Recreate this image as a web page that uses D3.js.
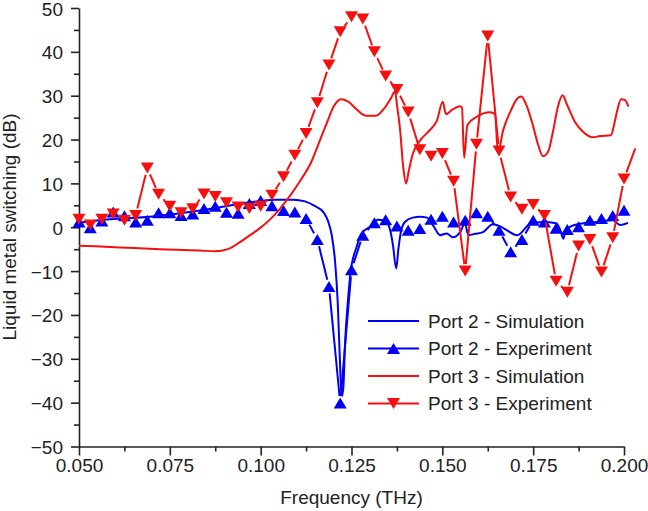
<!DOCTYPE html>
<html><head><meta charset="utf-8">
<script src="https://cdn.jsdelivr.net/npm/d3@7"></script>
<style>
html,body{margin:0;padding:0;background:#fff;}
svg text{font-family:"Liberation Sans",Arial,Helvetica,sans-serif;fill:#222;}
</style></head>
<body><svg id="chart" width="648" height="511"></svg>
<script>
// ---- data ----
const expFreq = [0.0500,0.0531,0.0563,0.0594,0.0625,0.0656,0.0688,0.0719,0.0750,0.0781,
  0.0813,0.0844,0.0875,0.0906,0.0938,0.0969,0.1000,0.1031,0.1063,0.1094,
  0.1125,0.1156,0.1188,0.1219,0.1250,0.1281,0.1313,0.1344,0.1375,0.1406,
  0.1438,0.1469,0.1500,0.1531,0.1563,0.1594,0.1625,0.1656,0.1688,0.1719,
  0.1750,0.1781,0.1813,0.1844,0.1875,0.1906,0.1938,0.1969,0.2000,0.2031];
const port3Exp = [1.8,0.5,1.8,3.0,1.6,2.7,13.5,7.5,4.8,3.3,
  4.2,7.6,7.0,5.6,4.6,4.3,4.8,7.3,11.5,16.4,
  21.4,28.4,37.0,44.6,48.0,47.5,40.0,34.5,31.4,26.3,
  17.7,16.2,16.8,10.5,-10.0,18.9,43.6,17.4,6.9,4.1,
  5.2,2.7,-12.3,-14.8,-4.3,-2.8,-10.2,-2.4,11.0,18.0];
const port2Exp = [1.2,-0.1,1.4,3.5,2.6,1.2,1.6,3.3,3.3,2.7,
  3.0,4.3,4.8,3.4,3.2,5.4,6.1,4.9,3.8,3.5,
  2.0,-2.8,-13.5,-40.1,-9.7,-1.8,1.0,1.7,0.3,-0.7,
  -0.3,1.8,2.5,1.2,1.6,3.3,2.5,-0.7,-5.6,-2.8,
  1.6,1.2,-0.2,-0.5,0.1,1.6,2.0,2.7,3.9];

const port2SimFreq = [0.0500,0.0585,0.0695,0.0833,0.0971,0.1039,0.1089,0.1122,0.1150,0.1172,
  0.1185,0.1196,0.1205,0.1212,0.1217,0.1221,0.1224,0.1228,0.1232,0.1240,
  0.1247,0.1264,0.1278,0.1301,0.1323,0.1342,0.1356,0.1364,0.1373,0.1379,
  0.1386,0.1397,0.1419,0.1439,0.1458,0.1474,0.1494,0.1512,0.1529,0.1549,
  0.1562,0.1572,0.1590,0.1612,0.1639,0.1659,0.1678,0.1706,0.1741,0.1777,
  0.1813,0.1824,0.1833,0.1840,0.1851,0.1879,0.1926,0.1970,0.1989,0.2011];
const port2Sim = [1.0,1.8,2.4,3.8,5.7,6.3,6.3,5.9,4.8,3.5,
  1.5,-2.0,-8.0,-17.0,-28.0,-36.0,-38.5,-36.0,-27.0,-17.0,
  -10.5,-4.5,-1.4,0.1,1.7,1.6,-0.5,-4.0,-9.4,-5.0,
  -1.0,1.2,2.2,2.4,2.2,0.5,-1.8,-1.4,-2.3,-1.1,
  0.8,-1.8,-1.5,-1.1,0.7,0.2,-0.7,-1.8,0.7,1.2,
  0.9,-0.5,-2.6,-0.5,0.1,0.8,1.2,1.6,0.5,1.0];

const port3SimFreq = [0.0500,0.0613,0.0723,0.0833,0.0874,0.0910,0.0943,0.0971,0.0998,0.1026,
  0.1053,0.1081,0.1108,0.1136,0.1163,0.1183,0.1202,0.1221,0.1240,0.1265,
  0.1290,0.1317,0.1339,0.1359,0.1370,0.1375,0.1384,0.1392,0.1400,0.1408,
  0.1419,0.1439,0.1466,0.1485,0.1501,0.1510,0.1527,0.1549,0.1554,0.1560,
  0.1569,0.1595,0.1631,0.1645,0.1653,0.1667,0.1689,0.1703,0.1717,0.1733,
  0.1750,0.1763,0.1777,0.1791,0.1805,0.1818,0.1831,0.1843,0.1865,0.1887,
  0.1915,0.1934,0.1964,0.1973,0.1981,0.1992,0.2003,0.2012];
const port3Sim = [-4.2,-4.6,-5.0,-5.3,-5.5,-5.0,-3.4,-1.8,-0.2,1.8,
  4.2,7.2,10.5,14.3,19.8,24.0,27.7,29.2,28.7,26.8,
  25.4,25.4,27.0,29.5,31.0,28.0,22.0,14.0,10.0,13.0,
  16.8,19.8,22.2,24.3,28.6,25.8,26.8,27.6,27.3,15.8,
  23.3,25.2,26.2,25.8,17.0,22.0,26.7,29.0,29.8,27.5,
  23.0,19.0,16.2,17.2,22.0,27.5,30.1,28.0,24.0,21.8,
  20.5,20.8,21.0,23.5,26.5,29.2,29.0,27.5];

const xTicks = [0.050,0.075,0.100,0.125,0.150,0.175,0.200];
const yTicks = [-50,-40,-30,-20,-10,0,10,20,30,40,50];
const legendLabels = ["Port 2 - Simulation","Port 2 - Experiment","Port 3 - Simulation","Port 3 - Experiment"];

// ---- drawing ----
const BLUE = "#0000f5", RED = "#f51010";
const svg = d3.select("#chart");
const x = d3.scaleLinear().domain([0.05,0.2]).range([79,624]);
const y = d3.scaleLinear().domain([-50,50]).range([446.5,8]);

// axes
const gx = svg.append("g").attr("transform","translate(0,446.5)");
gx.call(d3.axisBottom(x).tickValues(xTicks).tickFormat(d3.format(".3f")).tickSize(9).tickSizeOuter(0).tickPadding(3));
gx.append("g").call(d3.axisBottom(x).tickValues(d3.range(0.0625,0.2,0.025)).tickSize(5).tickFormat(""))
  .select(".domain").remove();
const gy = svg.append("g").attr("transform","translate(79,0)");
gy.call(d3.axisLeft(y).tickValues(yTicks).tickSize(8).tickSizeOuter(0).tickPadding(8));
gy.append("g").call(d3.axisLeft(y).tickValues(d3.range(-45,50,10)).tickSize(5).tickFormat(""))
  .select(".domain").remove();
gy.selectAll(".tick text").attr("dy","0.37em");
svg.selectAll(".domain, .tick line").attr("stroke","#222").attr("stroke-width",1.6);
svg.selectAll(".tick text").attr("font-size",19).attr("fill","#222")
  .attr("font-family","Liberation Sans, Arial, sans-serif");

svg.append("text").attr("x",351.5).attr("y",504).attr("text-anchor","middle")
  .attr("font-size",19).text("Frequency (THz)");
svg.append("text").attr("transform","translate(16,227) rotate(-90)").attr("text-anchor","middle")
  .attr("font-size",19).text("Liquid metal switching (dB)");

const line = d3.line().x(d=>x(d[0])).y(d=>y(d[1])).curve(d3.curveMonotoneX);

function simLine(fr, vals, color){
  svg.append("path").datum(vals.map((v,i)=>[fr[i],v]))
    .attr("d",line).attr("fill","none").attr("stroke",color)
    .attr("stroke-width",2).attr("stroke-linejoin","round");
}
function triPath(cx,cy,up){
  const w=6.5,h=5.5;
  return up ? `M${cx},${cy-h}L${cx+w},${cy+h}L${cx-w},${cy+h}Z`
            : `M${cx},${cy+h}L${cx+w},${cy-h}L${cx-w},${cy-h}Z`;
}
function expLine(fr, vals, color, up){
  const pts = vals.map((v,i)=>[x(fr[i]),y(v)]);
  const gap = 7;
  const g = svg.append("g");
  for(let i=0;i<pts.length-1;i++){
    const [x1,y1]=pts[i],[x2,y2]=pts[i+1];
    const L=Math.hypot(x2-x1,y2-y1);
    const g2 = (i+1===pts.length-1 && fr[i+1]>0.2) ? 0 : gap;
    if(L<=gap+g2) continue;
    const ux=(x2-x1)/L, uy=(y2-y1)/L;
    g.append("line").attr("x1",x1+ux*gap).attr("y1",y1+uy*gap)
      .attr("x2",x2-ux*g2).attr("y2",y2-uy*g2)
      .attr("stroke",color).attr("stroke-width",2);
  }
  vals.forEach((v,i)=>{
    if(fr[i]>0.2001) return;
    g.append("path").attr("d",triPath(x(fr[i]),y(v),up)).attr("fill",color);
  });
}

simLine(port2SimFreq, port2Sim, BLUE);
expLine(expFreq, port2Exp, BLUE, true);
simLine(port3SimFreq, port3Sim, RED);
expLine(expFreq, port3Exp, RED, false);

// legend
const legY = [321,348.5,376,403.5];
const legColors = [BLUE,BLUE,RED,RED];
const leg = svg.append("g");
legendLabels.forEach((lab,i)=>{
  leg.append("line").attr("x1",368).attr("x2",419).attr("y1",legY[i]).attr("y2",legY[i])
    .attr("stroke",legColors[i]).attr("stroke-width",2);
  if(i===1) leg.append("path").attr("d",triPath(393.5,legY[i],true)).attr("fill",BLUE);
  if(i===3) leg.append("path").attr("d",triPath(393.5,legY[i],false)).attr("fill",RED);
  leg.append("text").attr("x",428).attr("y",legY[i]+6.8).attr("font-size",19).text(lab);
});
</script></body></html>
